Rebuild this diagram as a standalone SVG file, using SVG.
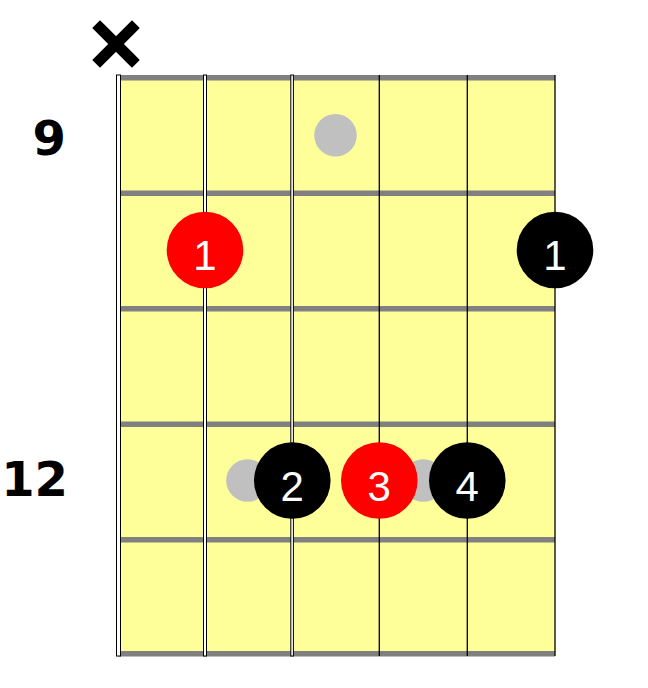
<svg xmlns="http://www.w3.org/2000/svg" width="648" height="688" viewBox="0 0 648 688">
<style>
.fret{fill:#808080}
.thick{fill:#fff;stroke:#000;stroke-width:1}
.thin{stroke:#000;stroke-width:1.3}
.gray{fill:#c0c0c0}
.num{font-family:"Liberation Sans",Arial,sans-serif;font-size:42px;fill:#fff;text-anchor:middle}
.fno{font-family:"DejaVu Sans",Verdana,sans-serif;font-weight:bold;font-size:48px;fill:#000;text-anchor:end}
</style>
<rect width="648" height="688" fill="#fff"/>
<g id="board">
<rect x="118" y="75" width="437" height="581" fill="#ffff99"/>
<rect class="fret" x="118" y="75" width="437" height="5.5"/>
<rect class="fret" x="118" y="190.5" width="437" height="5.5"/>
<rect class="fret" x="118" y="306" width="437" height="5.5"/>
<rect class="fret" x="118" y="421.5" width="437" height="5.5"/>
<rect class="fret" x="118" y="537" width="437" height="5.5"/>
<rect class="fret" x="118" y="651" width="437" height="5.5"/>
<rect class="thick" x="116.5" y="75" width="4" height="581"/>
<rect class="thick" x="203.5" y="75" width="3" height="581"/>
<rect class="thick" x="290.8" y="75" width="2.6" height="581"/>
<line class="thin" x1="379.3" y1="75" x2="379.3" y2="656"/>
<line class="thin" x1="467.3" y1="75" x2="467.3" y2="656"/>
<line class="thin" x1="555" y1="75" x2="555" y2="656"/>
</g>
<g id="mute">
<path d="M100 28 L132 60 M132 28 L100 60" stroke="#000" stroke-width="11" stroke-linecap="square"/>
</g>
<g id="fret-labels">
<text class="fno" x="66" y="155">9</text>
<text class="fno" x="68" y="496">12</text>
</g>
<g id="ghost-dots">
<circle class="gray" cx="335.5" cy="135.3" r="21.3"/>
<circle class="gray" cx="247.5" cy="480.5" r="21.3"/>
<circle class="gray" cx="423.3" cy="480.5" r="21.3"/>
</g>
<g id="n1a"><circle cx="205" cy="250" r="38.3" fill="#ff0000"/><text class="num" x="205" y="270">1</text></g>
<g id="n1b"><circle cx="555" cy="250" r="38.3" fill="#000"/><text class="num" x="555" y="270">1</text></g>
<g id="n2"><circle cx="292.3" cy="480.5" r="38.3" fill="#000"/><text class="num" x="292.3" y="501">2</text></g>
<g id="n3"><circle cx="379.3" cy="480.5" r="38.3" fill="#ff0000"/><text class="num" x="379.3" y="501">3</text></g>
<g id="n4"><circle cx="467.3" cy="480.5" r="38.3" fill="#000"/><text class="num" x="467.3" y="501">4</text></g>
</svg>
